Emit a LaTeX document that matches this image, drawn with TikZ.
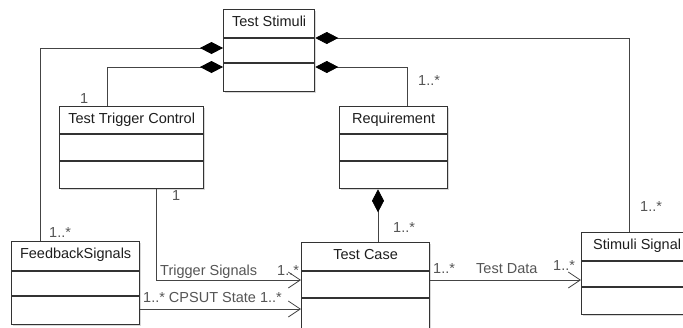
\documentclass[tikz,border=0pt]{standalone}
\usepackage{fontspec}
\setmainfont{Liberation Sans}
\usetikzlibrary{arrows.meta,shadows}

\definecolor{boxline}{HTML}{333333}
\definecolor{wire}{HTML}{444444}
\definecolor{ink}{HTML}{1E1E1E}
\definecolor{lbl}{HTML}{555555}

\tikzset{
  cls/.style={draw=boxline, line width=1.3pt, fill=white, inner sep=0pt,
    drop shadow={shadow xshift=1.5pt, shadow yshift=-1.5pt, opacity=0.3}},
  clsline/.style={draw=boxline, line width=1.3pt},
  clstitle/.style={anchor=base, inner sep=0pt, text=ink, font=\fontsize{14.5}{16}\selectfont},
  wirelbl/.style={anchor=base west, inner sep=0pt, text=lbl, font=\fontsize{14.5}{16}\selectfont},
  assoc/.style={draw=wire, line width=0.8pt},
  comp/.style={assoc, {Diamond[length=23pt,width=12pt,black,fill=black]}-},
  nav/.style={assoc, -{Straight Barb[length=12pt,width=16pt,line width=0.8pt]}}
}

% UML class box: name, x, y, width, height, first divider, second divider, title
\newcommand\umlclass[8]{%
  \node[cls, minimum width=#4pt, minimum height=#5pt, anchor=north west] (#1) at (#2,#3) {};
  \draw[clsline] ([yshift=-#6pt]#1.north west) -- ([yshift=-#6pt]#1.north east);
  \draw[clsline] ([yshift=-#7pt]#1.north west) -- ([yshift=-#7pt]#1.north east);
  \node[clstitle] (#1-title) at ([yshift=-17pt]#1.north) {#8};
}

\begin{document}
\begin{tikzpicture}[x=1pt, y=-1pt]
\clip (0,0) rectangle (683,327);
\fill[white] (0,0) rectangle (683,327);

% classes
\umlclass{ts}{223}{9}{91}{82}{29}{54}{Test Stimuli}
\umlclass{ttc}{59}{106}{144}{82}{28}{55}{Test Trigger Control}
\umlclass{req}{339}{106}{108}{82}{28}{55}{Requirement}
\umlclass{fs}{11}{241}{128}{83}{30}{55}{FeedbackSignals}
\umlclass{tc}{301}{242}{128}{92}{29}{56}{Test Case}
\umlclass{ss}{581}{232}{111}{82}{29}{55}{Stimuli Signal}

% compositions into Test Stimuli
\draw[comp] ([yshift=-39pt]ts.north west) -| ([xshift=29pt]fs.north west);
\draw[comp] ([yshift=-58pt]ts.north west) -| ([xshift=48pt]ttc.north west);
\draw[comp] ([yshift=-29pt]ts.north east) -| ([xshift=48pt]ss.north west);
\draw[comp] ([yshift=-58pt]ts.north east) -| ([xshift=68pt]req.north west);

% Requirement owns Test Case
\draw[comp] ([xshift=39pt]req.south west) -- ([xshift=77pt]tc.north west);

% directed associations
\draw[nav] ([xshift=97pt]ttc.south west) |- ([yshift=-38pt]tc.north west);
\draw[nav] ([yshift=-68pt]fs.north east) -- ([yshift=-67pt]tc.north west);
\draw[nav] ([yshift=-38pt]tc.north east) -- ([yshift=-48pt]ss.north west);

% multiplicities and role names
\node[wirelbl] (m1) at (80,103) {1};
\node[wirelbl] (m2) at (418,85) {1..*};
\node[wirelbl] (m3) at (640,211) {1..*};
\node[wirelbl] (m4) at (393,232) {1..*};
\node[wirelbl] (m5) at (49,237) {1..*};
\node[wirelbl] (m6) at (172,200) {1};
\node[wirelbl] (r1) at (160,275) {Trigger Signals};
\node[wirelbl] (m7) at (277,275) {1..*};
\node[wirelbl] (r2) at (143,302) {1..* CPSUT State 1..*};
\node[wirelbl] (m8) at (433,273) {1..*};
\node[wirelbl] (r3) at (476,273) {Test Data};
\node[wirelbl] (m9) at (553,270) {1..*};
\end{tikzpicture}
\end{document}
